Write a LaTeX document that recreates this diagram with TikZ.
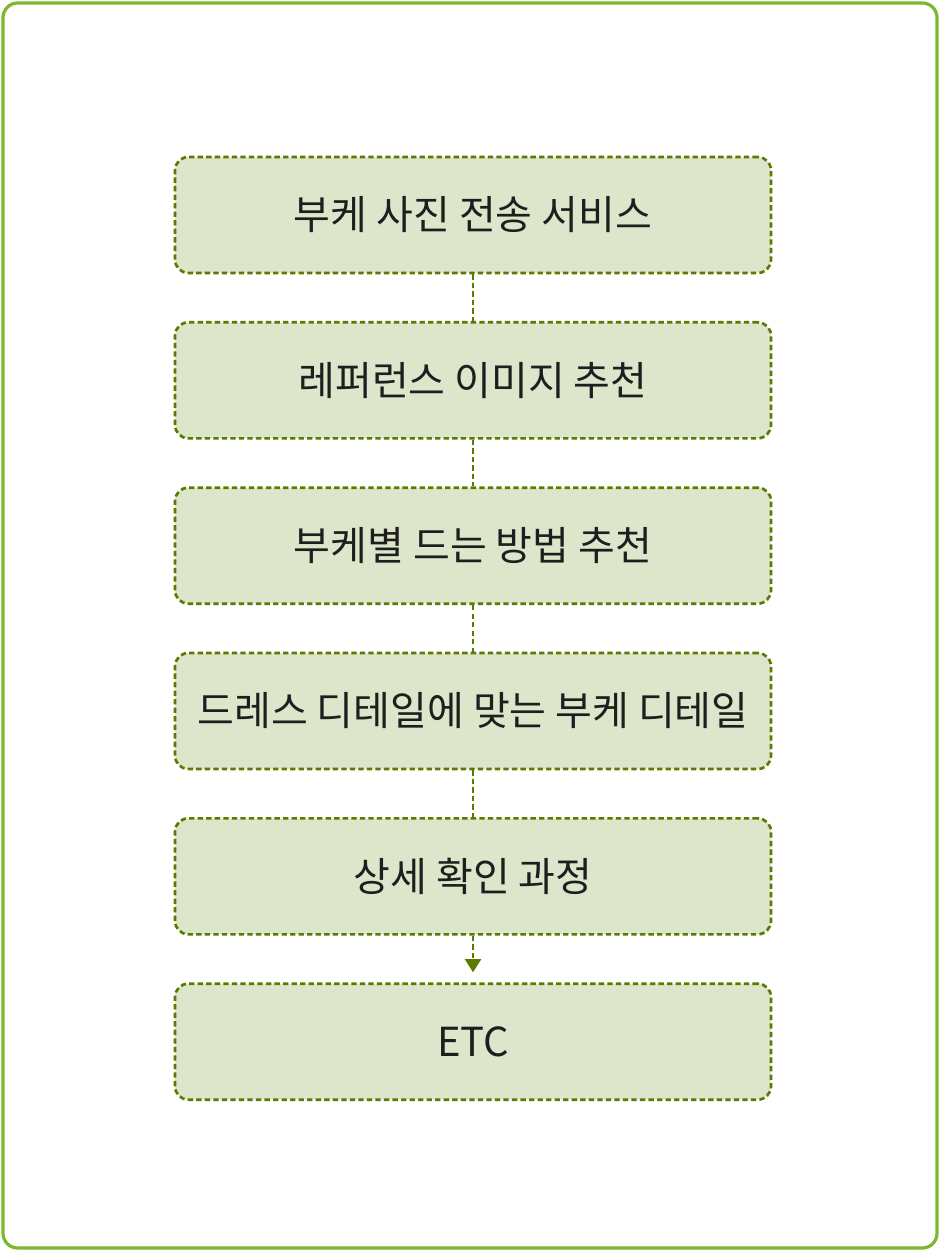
\documentclass[tikz,border=0pt]{standalone}
\usepackage{fontspec}
\setmainfont{Noto Sans CJK KR}
\usetikzlibrary{positioning,arrows.meta}
\definecolor{framegreen}{HTML}{7BB82E}
\definecolor{boxfill}{HTML}{DDE5CB}
\definecolor{boxline}{HTML}{5B7A00}
\definecolor{textdark}{HTML}{1E1E1E}

\begin{document}
\begin{tikzpicture}[x=0.75pt,y=-0.75pt,
			stepbox/.style={draw=boxline,fill=boxfill,line width=2pt,
				dash pattern=on 4pt off 2.4pt,rounded corners=10pt,
				minimum width=447pt,minimum height=87pt,inner sep=0pt,
				text=textdark,font=\fontsize{30}{34}\selectfont},
			link/.style={draw=boxline,line width=2pt,dash pattern=on 4pt off 2.4pt}]
			\useasboundingbox (0,0) rectangle (940,1251);
			\draw [framegreen,line width=2.4pt,rounded corners=11pt] (3,3) rectangle (937,1248);
			\node (photo) [stepbox] at (473,215) {부케 사진 전송 서비스};
			\node (refimg) [stepbox,below=35pt of photo] {레퍼런스 이미지 추천};
			\node (hold) [stepbox,below=35pt of refimg] {부케별 드는 방법 추천};
			\node (detail) [stepbox,below=35pt of hold] {드레스 디테일에 맞는 부케 디테일};
			\node (check) [stepbox,below=35pt of detail] {상세 확인 과정};
			\node (etc) [stepbox,below=35pt of check] {ETC};
			\draw [link] (photo) -- (refimg);
			\draw [link] (refimg) -- (hold);
			\draw [link] (hold) -- (detail);
			\draw [link] (detail) -- (check);
			\draw [link,-{Triangle[length=10pt,width=12pt,fill=boxline]},shorten >=7.5pt] (check) -- (etc);
		\end{tikzpicture}
\end{document}
